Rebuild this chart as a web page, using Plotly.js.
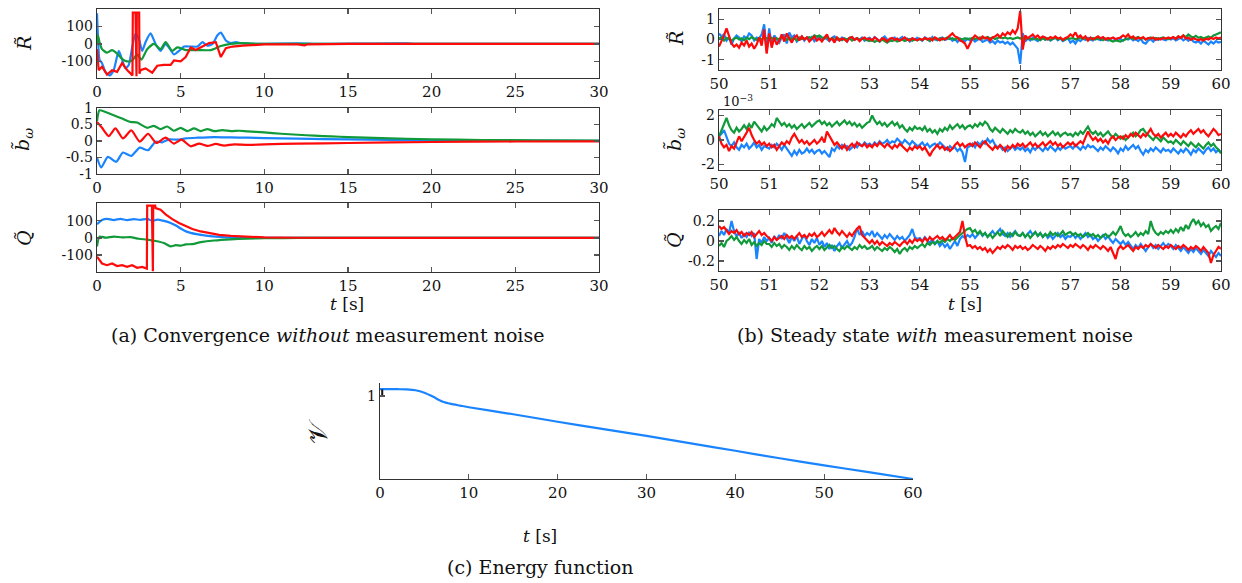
<!DOCTYPE html>
<html><head><meta charset="utf-8">
<script src="https://cdn.plot.ly/plotly-3.0.1.min.js"></script>
<style>html,body{margin:0;padding:0;background:#fff}#chart{width:1242px;height:583px}</style>
</head><body><div id="chart"></div>
<script>
// ---------- Panel (a): convergence without noise, t in [0,30] ----------
const aR_blue_t = [0,0.05,0.15,0.3,0.5,0.75,1.0,1.3,1.5,1.7,1.9,2.1,2.3,2.5,2.7,2.9,3.2,3.5,3.8,4.1,4.3,4.6,4.9,5.2,5.6,6.0,6.3,6.6,6.9,7.2,7.4,7.7,8.0,8.3,8.6,9,10,12,12.5,13,18.5,19,30];
const aR_blue   = [175,60,-90,-110,-160,-180,-150,-40,-90,-140,-120,-20,60,30,-40,10,60,0,-40,0,-20,-60,-40,-15,-15,-15,10,-10,0,50,65,20,5,10,5,2,0,3,2,0,3,0,0];
const aR_green_t = [0,0.05,0.15,0.3,0.6,0.9,1.2,1.5,1.8,2.1,2.4,2.65,3.0,3.4,3.8,4.1,4.5,4.8,5.3,6.0,6.8,7.4,8.0,8.7,9.5,30];
const aR_green   = [0,50,10,-30,-50,-35,-55,-85,-100,-95,-60,-90,-30,0,-30,10,-40,-20,-35,-35,-35,-12,0,5,0,0];
const aR_red_t = [0,0.1,0.3,0.6,0.9,1.2,1.5,1.8,2.12,2.14,2.30,2.32,2.36,2.38,2.52,2.54,2.6,2.9,3.3,3.6,4.0,4.4,4.6,5.0,5.3,5.6,5.9,6.3,6.7,7.1,7.4,7.7,8.1,8.7,10,12,12.4,12.6,15,30];
const aR_red   = [-30,-150,-130,-175,-150,-160,-110,-150,-180,180,180,-185,-185,180,180,-170,-150,-140,-165,-125,-120,-120,-95,-100,-75,-20,-35,-15,5,10,-75,-25,-15,-10,-3,-2,-8,-2,0,0];

const aB_blue_t = [0,0.25,0.65,1.15,1.55,2.05,2.55,3.05,3.5,3.9,4.3,4.8,5.3,6.0,7,8,9,10,12,15,20,25,30];
const aB_blue   = [-0.5,-0.8,-0.48,-0.63,-0.35,-0.45,-0.2,-0.28,-0.02,-0.04,0.05,0.04,0.08,0.1,0.12,0.11,0.1,0.09,0.07,0.05,0.02,0.01,0.005];
const aB_green_t = [0,0.15,0.5,1.0,1.5,2.0,2.4,3.0,3.4,3.8,4.2,4.6,5.0,5.4,5.8,6.2,6.6,7.0,7.5,8,8.5,9,10,11,12,13,14,15,17,20,23,26,30];
const aB_green   = [0.6,0.93,0.88,0.78,0.68,0.58,0.56,0.40,0.46,0.36,0.44,0.31,0.40,0.30,0.38,0.30,0.36,0.30,0.33,0.30,0.31,0.29,0.26,0.22,0.19,0.16,0.14,0.12,0.09,0.05,0.03,0.02,0.01];
const aB_red_t = [0,0.3,0.7,1.1,1.55,2.05,2.55,3.05,3.55,4.1,4.6,5.05,5.6,6.1,6.6,7.1,7.6,8.2,9,10,12,15,20,25,30];
const aB_red   = [0.58,0.4,0.15,0.38,0.08,0.32,-0.02,0.22,-0.06,0.1,-0.08,0.04,-0.16,-0.08,-0.15,-0.09,-0.14,-0.1,-0.12,-0.1,-0.08,-0.06,-0.03,-0.015,-0.01];

const aQ_blue_t = [0,0.3,0.6,1.0,1.4,1.8,2.2,2.6,3.0,3.3,3.6,4.0,4.4,4.75,5.0,5.35,5.95,6.5,7.3,8.1,10,15,30];
const aQ_blue   = [80,105,112,105,112,105,110,106,112,100,108,100,88,71,55,37,22,14,6,2,1,0,0];
const aQ_green_t = [0,0.15,0.5,1.0,1.5,2.0,2.5,3.0,3.5,4.0,4.4,4.7,5.0,5.3,5.7,6.2,7,8,9,10,12,30];
const aQ_green   = [-50,8,2,8,3,5,-5,-10,-18,-30,-50,-42,-45,-38,-36,-25,-15,-8,-4,-2,0,0];
const aQ_red_t = [0,0.3,0.6,0.9,1.2,1.5,1.8,2.1,2.4,2.7,2.98,3.0,3.28,3.3,3.34,3.36,3.48,3.5,3.8,4.1,4.5,4.9,5.3,5.7,6.2,6.7,7.3,8,9,10,12,15,30];
const aQ_red   = [-110,-150,-160,-150,-165,-160,-170,-160,-175,-170,-180,190,190,-195,-195,190,190,175,165,138,110,88,68,52,38,27,18,12,6,3,1,0,0];

// ---------- Panel (b): steady state with noise, t from 50 s every 0.05 s ----------
const bStart = 50, bStep = 0.05;
const bR_blue = [0.30,0.15,0.25,-0.05,0.10,-0.25,0.05,0.20,0.10,-0.10,0.15,0.05,0.30,0.20,-0.05,0.10,0.05,0.25,0.75,-0.60,
0.55,-0.30,0.20,0.05,-0.15,0.10,0.25,-0.20,0.35,0.10,0.20,-0.10,0.05,0.15,-0.05,0.10,0.00,0.12,-0.08,0.05,
0.10,-0.05,0.12,0.02,-0.08,0.08,0.15,0.00,-0.05,0.10,0.05,-0.10,0.08,0.12,-0.02,0.06,0.00,0.10,-0.06,0.04,
0.08,-0.04,0.12,0.02,-0.10,0.06,0.15,0.00,-0.08,0.05,0.10,-0.05,0.02,0.12,-0.02,0.04,-0.10,0.06,0.00,0.08,
0.02,-0.06,0.10,0.04,-0.08,0.12,0.00,-0.04,0.06,0.10,-0.02,0.04,0.08,-0.06,0.02,-0.12,0.05,0.00,-0.08,0.04,
-0.05,0.02,-0.10,-0.02,0.05,-0.12,-0.05,0.00,-0.15,-0.08,-0.20,-0.05,-0.15,-0.10,-0.20,-0.12,-0.25,-0.15,-0.30,-0.45,
-1.20,0.30,-0.10,0.05,-0.05,0.10,0.00,-0.08,0.05,0.12,-0.02,0.06,-0.05,0.02,0.10,-0.04,0.05,-0.08,0.00,0.06,
-0.15,-0.05,-0.20,0.00,-0.08,0.05,-0.02,0.08,0.00,-0.05,0.06,0.02,-0.04,0.10,0.00,-0.05,0.04,0.08,-0.02,0.05,
0.02,-0.06,0.05,0.00,0.08,-0.04,0.02,-0.08,0.04,-0.15,-0.20,-0.05,0.02,-0.10,0.05,-0.02,0.06,0.00,-0.04,0.05,
0.00,0.06,-0.05,0.02,0.08,-0.04,0.04,-0.06,0.05,-0.10,-0.15,-0.08,-0.20,-0.05,-0.15,-0.25,-0.10,-0.20,-0.08,-0.15,
-0.12];
const bR_green = [0.05,0.10,-0.05,0.08,0.02,-0.06,0.04,0.10,0.00,0.06,-0.04,0.08,0.02,0.12,0.05,-0.02,0.06,0.00,0.10,0.04,
0.02,0.08,-0.04,0.06,0.00,0.10,0.04,-0.02,0.08,0.02,0.06,-0.04,0.10,0.02,0.05,0.08,0.12,0.05,0.20,0.15,
0.20,0.10,0.05,0.12,0.00,0.06,-0.02,0.08,0.02,-0.04,0.05,0.00,0.08,-0.05,0.02,0.06,-0.02,0.04,0.00,-0.06,
-0.08,-0.02,-0.12,-0.05,-0.10,0.00,-0.06,-0.15,-0.04,-0.08,-0.02,-0.10,-0.05,0.00,-0.08,-0.04,0.02,-0.06,0.00,-0.04,
0.02,-0.04,0.05,0.00,-0.06,0.04,0.08,-0.02,0.06,0.00,0.04,0.10,0.02,0.06,-0.02,0.08,0.04,0.00,0.06,0.02,
0.04,0.08,0.02,0.06,0.10,0.04,0.08,0.12,0.05,0.10,0.02,0.08,0.12,0.06,0.10,0.04,0.08,0.02,0.06,0.10,
0.05,0.10,0.02,0.08,0.04,0.00,0.06,0.02,-0.04,0.05,0.00,0.06,-0.02,0.04,0.08,0.00,0.05,-0.04,0.02,0.06,
0.04,0.08,0.00,0.05,0.10,0.02,0.06,-0.02,0.04,0.08,0.00,0.06,0.02,-0.04,0.05,0.00,-0.06,-0.10,-0.04,-0.08,
-0.10,-0.04,0.00,0.05,0.10,0.02,0.06,0.12,0.04,0.08,0.00,0.06,0.10,0.04,0.08,0.02,0.06,0.10,0.05,0.02,
0.06,0.10,0.04,0.15,0.08,0.20,0.12,0.25,0.15,0.10,0.18,0.08,0.12,0.05,0.10,0.15,0.08,0.20,0.25,0.30,
0.35];
const bR_red = [-0.35,-0.10,0.20,0.55,0.15,-0.20,-0.35,-0.25,-0.40,-0.15,-0.30,-0.05,-0.35,-0.20,-0.45,-0.25,0.10,-0.30,0.50,-0.70,
0.30,-0.40,0.10,-0.25,-0.05,0.25,-0.10,0.30,0.05,-0.15,0.10,0.20,-0.05,0.15,0.00,0.10,-0.10,0.05,0.15,-0.05,
0.05,-0.10,0.10,0.25,-0.05,0.05,-0.15,0.10,-0.05,0.05,0.00,-0.10,0.08,0.12,-0.02,0.06,-0.08,0.04,0.10,0.00,
0.05,-0.05,0.10,0.00,-0.08,0.06,0.02,-0.10,0.04,0.08,-0.02,0.05,-0.06,0.02,0.10,0.00,-0.05,0.06,0.02,-0.04,
0.04,-0.02,0.08,0.00,0.06,-0.05,0.10,0.02,-0.04,0.06,0.00,0.08,0.20,0.30,0.15,0.10,-0.05,-0.10,-0.20,-0.45,
-0.20,0.05,0.20,0.10,0.00,0.15,0.05,0.10,-0.05,0.10,0.15,0.25,0.10,0.30,0.20,0.35,0.25,0.45,0.30,0.55,
1.40,-0.50,0.20,0.05,0.15,0.25,0.10,0.20,0.05,0.15,0.10,0.00,0.12,0.06,0.15,0.04,0.10,-0.02,0.08,0.12,
0.25,0.15,0.35,0.10,0.20,0.05,0.15,-0.05,0.10,0.00,0.08,0.15,0.05,0.12,0.00,0.08,0.04,0.10,0.02,0.06,
0.10,0.20,0.12,0.25,0.08,0.15,0.02,0.10,0.05,0.12,0.00,0.08,0.04,0.10,-0.02,0.06,0.00,0.08,0.04,0.10,
0.05,0.12,0.02,0.15,0.08,0.20,0.04,0.10,-0.02,0.06,0.00,-0.04,0.02,-0.06,0.04,0.00,0.08,0.02,0.10,0.05,
0.10];

// b_omega in units of 1e-3
const bB_blue = [0.3,0.5,0.8,0.2,-0.3,-0.5,-0.2,-0.6,-0.8,-0.4,-0.6,-0.3,-0.7,-0.5,-0.2,-0.6,-0.4,-0.8,-0.5,-0.6,
-0.7,-0.4,-0.6,-0.3,-0.5,-0.8,-0.4,-0.7,-1.0,-1.3,-0.9,-1.2,-0.8,-1.1,-1.0,-0.7,-1.0,-0.8,-1.1,-0.9,
-0.8,-1.1,-0.9,-1.2,-1.4,-0.7,-0.9,-0.5,-0.7,-0.4,-0.6,-0.5,-0.8,-0.6,-0.4,-0.6,-0.3,-0.5,-0.2,-0.4,
-0.3,-0.5,-0.2,-0.4,-0.1,-0.3,-0.2,0.0,-0.3,-0.1,-0.2,0.1,-0.1,-0.3,0.0,-0.2,-0.4,-0.1,-0.3,-0.5,
-0.4,-0.2,-0.5,-0.3,-0.6,-0.4,-0.3,-0.5,-0.2,-0.4,-0.6,-0.8,-0.5,-0.7,-0.6,-0.9,-0.7,-1.0,-1.8,-0.6,
-0.5,-0.3,-0.6,-0.2,-0.4,-0.1,-0.3,0.1,-0.2,0.0,-0.4,-0.6,-0.5,-0.8,-0.6,-0.9,-0.7,-0.5,-0.8,-0.6,
-0.8,-0.6,-0.9,-0.7,-1.0,-0.6,-0.8,-0.5,-0.7,-0.9,-0.6,-0.8,-0.5,-0.7,-0.9,-0.6,-0.8,-0.5,-0.7,-0.6,
-0.5,-0.7,-0.4,-0.6,-0.8,-0.5,-0.7,-0.4,-0.6,-0.5,-0.7,-0.9,-0.6,-0.8,-0.5,-0.7,-0.9,-0.6,-0.8,-1.1,
-0.7,-0.9,-0.5,-0.8,-0.6,-0.4,-0.7,-0.5,-0.9,-1.2,-0.8,-1.0,-0.7,-0.9,-0.6,-0.8,-1.0,-0.7,-0.9,-0.8,
-1.0,-0.7,-0.9,-1.1,-0.8,-1.0,-0.7,-0.9,-1.2,-0.8,-1.0,-0.7,-0.9,-1.1,-0.8,-0.6,-0.9,-0.7,-1.0,-0.8,
-1.0];
const bB_green = [0.3,0.8,1.4,1.8,1.2,0.8,0.6,1.0,0.7,0.9,1.2,0.9,1.3,1.0,1.5,1.2,0.9,0.7,1.1,0.8,
1.0,1.3,1.1,1.8,1.5,1.2,1.4,1.1,1.3,1.0,1.2,0.9,1.1,1.3,1.0,1.2,1.4,1.1,1.3,1.5,
1.6,1.3,1.5,1.2,1.4,1.1,1.3,1.5,1.2,1.4,1.6,1.3,1.5,1.2,1.4,1.1,1.3,1.0,1.2,1.4,
1.5,2.0,1.6,1.3,1.5,1.2,1.4,1.1,1.3,1.5,1.2,1.4,1.0,1.2,0.9,0.7,1.0,0.8,1.1,0.9,
1.0,0.8,1.1,0.7,0.9,0.6,0.8,0.5,0.9,0.7,1.0,0.8,1.2,0.9,1.1,1.3,1.0,1.2,0.9,1.1,
1.2,1.0,1.3,1.1,1.4,1.2,1.5,1.3,0.9,0.7,1.0,0.8,0.6,0.9,0.7,0.5,0.8,0.6,0.9,0.7,
0.6,0.8,0.5,0.7,0.4,0.6,0.3,0.5,0.7,0.4,0.6,0.3,0.5,0.7,0.4,0.6,0.3,0.5,0.6,0.4,
0.5,0.3,0.6,0.4,0.7,0.5,0.8,1.1,0.7,0.5,0.7,0.4,0.6,0.3,0.5,0.7,0.4,0.2,0.5,0.3,
0.1,0.3,0.0,0.2,0.4,0.6,0.3,0.5,0.8,0.9,0.6,0.4,0.2,0.0,0.3,0.1,-0.1,0.2,0.0,-0.2,
-0.1,-0.3,0.0,-0.2,-0.4,-0.1,-0.3,-0.5,-0.2,-0.4,-0.6,-0.3,-0.5,-0.7,-0.4,-0.2,-0.5,-0.3,-0.6,-0.8,
-1.1];
const bB_red = [0.3,-0.3,-0.6,-0.4,-0.9,-0.5,-0.7,-0.2,0.3,-0.1,0.2,0.6,1.0,0.4,0.0,-0.3,-0.1,-0.4,-0.2,-0.5,
-0.3,-0.6,-0.4,-0.8,-0.5,-0.2,-0.4,-0.1,-0.3,0.2,0.5,0.1,-0.2,0.0,-0.3,-0.1,-0.4,-0.2,0.0,-0.3,
-0.1,0.2,-0.2,0.7,0.3,-0.1,-0.4,-0.2,-0.5,-0.7,-0.4,-0.8,-0.5,-0.3,-0.6,-0.2,-0.4,-0.5,-0.3,-0.6,
-0.4,-0.6,-0.3,-0.5,-0.2,-0.4,-0.6,-0.3,-0.5,-0.7,-0.4,-0.6,-0.3,-0.5,-0.7,-0.9,-0.6,-0.8,-0.5,-0.7,
-0.5,-0.8,-0.6,-1.0,-1.3,-0.9,-0.6,-0.4,-0.7,-0.5,-0.8,-0.6,-0.9,-0.7,-0.4,-0.2,-0.5,-0.3,-0.6,-0.4,
-0.3,-0.5,-0.2,-0.4,-0.6,-0.3,-0.1,-0.4,-0.6,-0.8,-0.5,-0.7,-0.4,-0.6,-0.9,-0.5,-0.7,-0.4,-0.6,-0.3,
-0.5,-0.3,-0.6,-0.4,-0.2,-0.5,-0.3,-0.6,-0.4,-0.2,-0.5,-0.3,-0.1,-0.4,-0.2,-0.5,-0.3,-0.6,-0.4,-0.2,
-0.4,-0.2,-0.5,-0.3,-0.1,-0.3,0.2,0.7,0.3,0.0,0.2,-0.1,0.1,-0.2,0.0,-0.3,0.1,0.3,0.0,0.2,
0.3,0.1,0.4,0.2,0.5,0.3,0.6,0.4,0.2,0.5,0.3,0.6,0.9,0.5,0.3,0.5,0.2,0.4,0.6,0.3,
0.5,0.3,0.6,0.4,0.2,0.5,0.3,0.6,0.8,0.5,0.7,0.9,0.6,0.8,0.5,0.3,0.6,0.9,0.7,0.4,
0.5];

const bQ_blue = [0.05,0.10,0.06,0.12,0.08,0.20,0.10,0.05,0.08,0.03,0.07,0.04,0.09,0.05,0.08,-0.18,0.02,-0.02,0.04,0.00,
0.03,-0.02,0.05,0.01,0.06,0.02,0.08,0.03,-0.02,0.04,0.00,0.05,-0.03,0.02,0.06,0.00,-0.04,0.02,-0.02,0.03,
-0.04,0.00,-0.06,-0.02,-0.08,-0.04,-0.10,-0.05,-0.02,-0.07,-0.03,0.00,-0.05,-0.02,0.04,0.13,0.06,0.10,0.05,0.08,
0.06,0.10,0.04,0.08,0.05,0.02,0.06,0.03,0.07,0.04,0.01,0.05,0.02,0.04,0.00,0.03,0.06,0.12,0.04,0.02,
0.03,0.00,0.04,0.01,-0.02,0.02,-0.03,0.00,-0.05,-0.02,-0.06,-0.03,-0.08,-0.04,0.00,-0.05,0.02,0.05,0.03,0.06,
0.04,0.07,0.03,0.06,0.09,0.05,0.08,0.04,0.07,0.10,0.06,0.09,0.12,0.07,0.05,0.08,0.04,0.07,0.10,0.06,
0.05,0.08,0.04,0.07,0.10,0.06,0.09,0.05,0.08,0.04,0.07,0.03,0.06,0.02,0.05,0.08,0.04,0.06,0.02,0.05,
0.04,0.07,0.03,0.06,0.02,0.05,0.08,0.04,0.06,0.02,0.04,0.00,0.03,0.06,0.02,0.05,0.01,-0.02,0.02,-0.01,
-0.03,0.00,-0.04,-0.01,-0.05,-0.08,-0.04,-0.07,-0.03,-0.06,-0.10,-0.06,-0.03,-0.07,-0.04,-0.08,-0.05,-0.02,-0.06,-0.03,
-0.05,-0.08,-0.04,-0.07,-0.10,-0.06,-0.09,-0.12,-0.08,-0.11,-0.07,-0.10,-0.13,-0.09,-0.12,-0.15,-0.10,-0.13,-0.16,-0.12,
-0.15];
const bQ_green = [-0.05,-0.02,-0.06,0.00,0.02,0.05,0.01,0.04,0.00,-0.03,0.01,-0.02,0.02,-0.04,-0.01,-0.05,-0.02,-0.04,0.00,-0.03,
-0.03,-0.06,-0.02,-0.05,-0.03,-0.07,-0.04,-0.06,-0.09,-0.05,-0.08,-0.04,-0.07,-0.09,-0.05,-0.08,-0.06,-0.10,-0.07,-0.05,
-0.08,-0.05,-0.09,-0.06,-0.04,-0.07,-0.05,-0.08,-0.10,-0.06,-0.08,-0.05,-0.07,-0.09,-0.06,-0.08,-0.04,-0.07,-0.05,-0.08,
-0.07,-0.05,-0.09,-0.06,-0.08,-0.10,-0.07,-0.09,-0.06,-0.08,-0.11,-0.08,-0.13,-0.09,-0.07,-0.10,-0.06,-0.08,-0.05,-0.07,
-0.05,-0.03,-0.06,-0.02,-0.04,-0.01,-0.03,0.00,-0.02,0.01,-0.01,0.02,0.00,0.03,0.01,0.04,0.06,0.08,0.10,0.12,
0.13,0.09,0.11,0.07,0.10,0.06,0.08,0.04,0.07,0.03,0.06,0.09,0.05,0.10,0.07,0.04,0.08,0.05,0.09,0.06,
0.05,0.08,0.04,0.07,0.03,0.06,0.09,0.05,0.08,0.04,0.07,0.05,0.09,0.06,0.08,0.05,0.07,0.10,0.06,0.08,
0.09,0.06,0.08,0.05,0.07,0.04,0.06,0.08,0.05,0.07,0.04,0.06,0.03,0.05,0.07,0.04,0.06,0.09,0.06,0.10,
0.15,0.08,0.05,0.07,0.04,0.06,0.09,0.05,0.08,0.06,0.10,0.07,0.20,0.12,0.08,0.06,0.09,0.07,0.10,0.08,
0.11,0.08,0.12,0.09,0.14,0.10,0.16,0.12,0.18,0.22,0.17,0.20,0.15,0.18,0.14,0.16,0.10,0.13,0.15,0.12,
0.18];
const bQ_red = [0.15,0.12,0.14,0.10,0.07,0.10,0.08,0.11,0.07,0.09,0.05,0.08,0.06,0.09,0.04,0.07,0.10,0.06,0.08,0.05,
0.03,0.00,0.04,0.01,0.03,0.05,0.02,0.06,0.03,0.05,0.02,0.05,0.08,0.04,0.06,0.03,0.07,0.05,0.08,0.04,
0.06,0.09,0.05,0.08,0.11,0.07,0.13,0.09,0.06,0.10,0.07,0.04,0.08,0.05,0.09,0.12,0.15,0.06,0.03,0.00,
-0.02,0.01,-0.03,0.00,-0.04,-0.01,-0.03,-0.05,-0.02,-0.04,-0.01,-0.03,-0.05,-0.02,0.00,-0.03,0.01,-0.02,0.02,0.00,
0.02,-0.01,0.03,0.00,0.04,0.01,0.03,0.05,0.02,0.04,0.01,0.03,0.06,0.02,0.04,0.07,0.09,0.20,0.05,-0.05,
-0.04,-0.07,-0.05,-0.08,-0.06,-0.09,-0.07,-0.11,-0.08,-0.12,-0.09,-0.06,-0.08,-0.05,-0.07,-0.04,-0.06,-0.09,-0.05,-0.07,
-0.05,-0.08,-0.06,-0.09,-0.07,-0.04,-0.06,-0.08,-0.05,-0.07,-0.10,-0.06,-0.08,-0.05,-0.07,-0.04,-0.06,-0.03,-0.05,-0.07,
-0.04,-0.06,-0.03,-0.05,-0.07,-0.04,-0.06,-0.09,-0.05,-0.07,-0.04,-0.06,-0.08,-0.05,-0.07,-0.10,-0.06,-0.12,-0.18,-0.08,
-0.05,-0.08,-0.06,-0.04,-0.07,-0.10,-0.06,-0.08,-0.05,-0.07,-0.04,-0.06,-0.03,-0.05,-0.07,-0.04,-0.06,-0.08,-0.05,-0.07,
-0.04,-0.06,-0.08,-0.05,-0.07,-0.04,-0.06,-0.09,-0.06,-0.08,-0.05,-0.07,-0.10,-0.06,-0.09,-0.12,-0.22,-0.14,-0.10,-0.06,
-0.08];

// ---------- Panel (c): energy function ----------
const cV_t = [0,1,2,3,4,5,6,7,8,9,10,15,20,25,30,35,40,45,50,55,60];
const cV   = [1.084,1.084,1.082,1.08,1.07,1.04,0.99,0.935,0.905,0.885,0.865,0.78,0.69,0.605,0.52,0.43,0.34,0.25,0.165,0.083,0.0];
const cMark_t = [0.25,0.25];
const cMark   = [0.99,1.08];

// ---------- tick labels ----------
const aX_ticks = [0,5,10,15,20,25,30];
const aR_ticks = [-100,0,100], aR_text = ['-100','0','100'];
const aB_ticks = [-1,-0.5,0,0.5,1], aB_text = ['-1','-0.5','0','0.5','1'];
const aQ_ticks = [-100,0,100], aQ_text = ['-100','0','100'];
const bX_ticks = [50,51,52,53,54,55,56,57,58,59,60];
const bR_ticks = [-1,0,1], bR_text = ['-1','0','1'];
const bB_ticks = [-2,0,2], bB_text = ['-2','0','2'];
const bQ_ticks = [-0.2,0,0.2], bQ_text = ['-0.2','0','0.2'];
const cX_ticks = [0,10,20,30,40,50,60];
const cY_ticks = [1];

// ---------- styling ----------
const W = 1242, H = 583;
const BLUE = '#1a84ff', GREEN = '#109a3a', RED = '#ff0a0a';
const FONT = 'DejaVu Serif';
const px = v => v / W, py = v => 1 - v / H;

function line(xa, ya, x, y, color, shape) {
  return {type: 'scatter', mode: 'lines', x: x, y: y, xaxis: xa, yaxis: ya,
    line: {color: color, width: 2.2, shape: shape || 'spline', smoothing: 0.6}, hoverinfo: 'skip', showlegend: false};
}
function lineB(xa, ya, y, color) {
  return {type: 'scatter', mode: 'lines', x0: bStart, dx: bStep, y: y, xaxis: xa, yaxis: ya,
    line: {color: color, width: 2.2}, hoverinfo: 'skip', showlegend: false};
}

const traces = [
  line('x', 'y', aR_blue_t, aR_blue, BLUE), line('x', 'y', aR_green_t, aR_green, GREEN), line('x', 'y', aR_red_t, aR_red, RED, 'linear'),
  line('x2', 'y2', aB_blue_t, aB_blue, BLUE), line('x2', 'y2', aB_green_t, aB_green, GREEN), line('x2', 'y2', aB_red_t, aB_red, RED),
  line('x3', 'y3', aQ_blue_t, aQ_blue, BLUE), line('x3', 'y3', aQ_green_t, aQ_green, GREEN), line('x3', 'y3', aQ_red_t, aQ_red, RED, 'linear'),
  lineB('x4', 'y4', bR_blue, BLUE), lineB('x4', 'y4', bR_green, GREEN), lineB('x4', 'y4', bR_red, RED),
  lineB('x5', 'y5', bB_blue, BLUE), lineB('x5', 'y5', bB_green, GREEN), lineB('x5', 'y5', bB_red, RED),
  lineB('x6', 'y6', bQ_blue, BLUE), lineB('x6', 'y6', bQ_green, GREEN), lineB('x6', 'y6', bQ_red, RED),
  line('x7', 'y7', cV_t, cV, BLUE),
  {type: 'scatter', mode: 'lines', x: cMark_t, y: cMark, xaxis: 'x7', yaxis: 'y7', line: {color: '#111', width: 2}, hoverinfo: 'skip', showlegend: false}
];

function xax(dom, range, ticks, anchor, mirror) {
  return {domain: dom, range: range, anchor: anchor, tickvals: ticks, ticktext: ticks.map(String),
    showline: true, linecolor: '#333', linewidth: 1.3, mirror: mirror === undefined ? 'ticks' : mirror,
    ticks: 'inside', ticklen: 5, tickcolor: '#555', tickwidth: 1.2, showgrid: false, zeroline: false,
    tickfont: {family: FONT, size: 15, color: '#111'}, fixedrange: true};
}
function yax(dom, range, ticks, text, anchor, mirror) {
  return {domain: dom, range: range, anchor: anchor, tickvals: ticks, ticktext: text,
    showline: true, linecolor: '#333', linewidth: 1.3, mirror: mirror === undefined ? 'ticks' : mirror,
    ticks: 'inside', ticklen: 5, tickcolor: '#555', tickwidth: 1.2, showgrid: false, zeroline: false,
    tickfont: {family: FONT, size: 14, color: '#111'}, fixedrange: true};
}

const aXd = [px(97), px(599)], bXd = [px(719), px(1221)];
const layout = {
  width: W, height: H, margin: {l: 0, r: 0, t: 0, b: 0}, paper_bgcolor: '#fff', plot_bgcolor: 'rgba(0,0,0,0)',
  showlegend: false, font: {family: FONT, color: '#111'},
  xaxis:  xax(aXd, [0, 30], aX_ticks, 'y'),
  yaxis:  yax([py(78), py(9)], [-195, 200], aR_ticks, aR_text, 'x'),
  xaxis2: xax(aXd, [0, 30], aX_ticks, 'y2'),
  yaxis2: yax([py(174), py(108)], [-1, 1], aB_ticks, aB_text, 'x2'),
  xaxis3: xax(aXd, [0, 30], aX_ticks, 'y3'),
  yaxis3: yax([py(272), py(203)], [-200, 205], aQ_ticks, aQ_text, 'x3'),
  xaxis4: xax(bXd, [50, 60], bX_ticks, 'y4'),
  yaxis4: yax([py(70), py(9)], [-1.5, 1.5], bR_ticks, bR_text, 'x4'),
  xaxis5: xax(bXd, [50, 60], bX_ticks, 'y5'),
  yaxis5: yax([py(170), py(110)], [-2.45, 2.45], bB_ticks, bB_text, 'x5'),
  xaxis6: xax(bXd, [50, 60], bX_ticks, 'y6'),
  yaxis6: yax([py(271), py(210)], [-0.3, 0.31], bQ_ticks, bQ_text, 'x6'),
  xaxis7: xax([px(380), px(913)], [0, 60], cX_ticks, 'y7', false),
  yaxis7: yax([py(479), py(383)], [0, 1.157], cY_ticks, ['1'], 'x7', false),
  annotations: []
};

function ann(x, y, text, size, angle) {
  layout.annotations.push({xref: 'paper', yref: 'paper', x: px(x), y: py(y), text: text, showarrow: false,
    xanchor: 'center', yanchor: 'middle', textangle: angle || 0, font: {family: FONT, size: size, color: '#111'}});
}
// axis titles
ann(24, 44, '<i>R̃</i>', 19, -90);
ann(24, 140, '<i>b̃</i><sub><i>ω</i></sub>', 19, -90);
ann(24, 238, '<i>Q̃</i>', 19, -90);
ann(676, 39, '<i>R̃</i>', 19, -90);
ann(676, 140, '<i>b̃</i><sub><i>ω</i></sub>', 19, -90);
ann(674, 240, '<i>Q̃</i>', 19, -90);
ann(318, 432, '𝒱', 26, -90);
ann(347, 304, '<i>t</i> [s]', 17);
ann(965, 304, '<i>t</i> [s]', 17);
ann(540, 536, '<i>t</i> [s]', 17);
ann(738, 101, '10<sup>−3</sup>', 13);
// captions
ann(327, 335, '(a) Convergence <i>without</i> measurement noise', 19);
ann(935, 335, '(b) Steady state <i>with</i> measurement noise', 19);
ann(540, 567, '(c) Energy function', 19);

Plotly.newPlot('chart', traces, layout, {staticPlot: true, displayModeBar: false});
</script>
</body></html>
